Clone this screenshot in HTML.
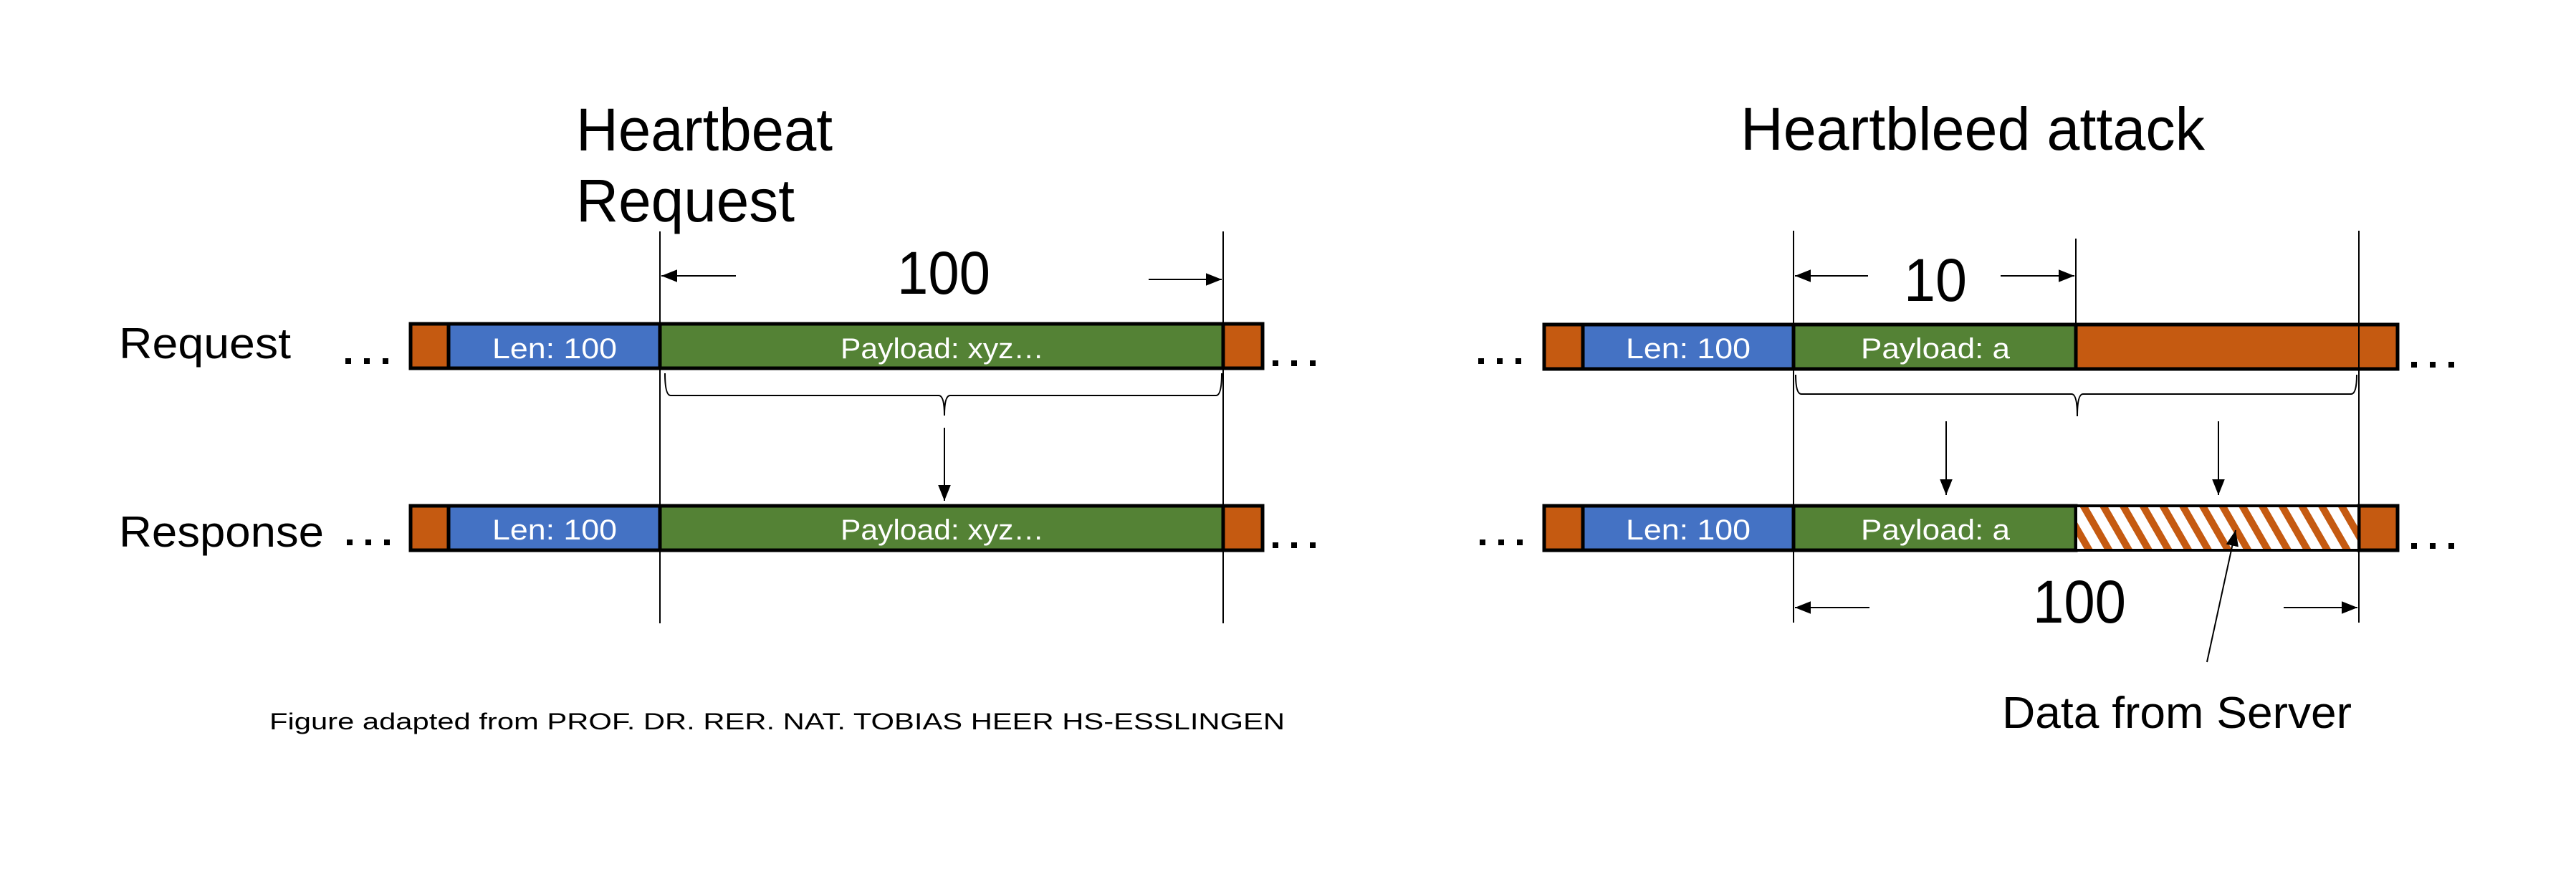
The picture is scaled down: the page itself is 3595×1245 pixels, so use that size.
<!DOCTYPE html>
<html><head><meta charset="utf-8"><style>html,body{margin:0;padding:0;background:#fff}svg{display:block}</style></head>
<body>
<svg width="3595" height="1245" viewBox="0 0 3595 1245" xmlns="http://www.w3.org/2000/svg" font-family="Liberation Sans, Arial, sans-serif">
<defs>
<marker id="ah" viewBox="0 0 10 10" refX="10" refY="5" markerWidth="22" markerHeight="22" markerUnits="userSpaceOnUse" orient="auto"><path d="M0,1 L10,5 L0,9 z" fill="#000"/></marker>
<pattern id="hatch" width="24" height="24" patternUnits="userSpaceOnUse" patternTransform="rotate(-30)"><rect width="24" height="24" fill="#fff"/><rect width="10" height="24" fill="#c55a11"/></pattern>
</defs>

<g transform="translate(-10,0)">
<text x="814" y="210" font-size="84" textLength="358" lengthAdjust="spacingAndGlyphs">Heartbeat</text>
<text x="814" y="309" font-size="84" textLength="305" lengthAdjust="spacingAndGlyphs">Request</text>
<text x="1262" y="410" font-size="84" textLength="130" lengthAdjust="spacingAndGlyphs">100</text>

<g stroke="#000" stroke-width="2"><line x1="931" y1="323" x2="931" y2="870"/><line x1="1717" y1="323" x2="1717" y2="870"/></g>
<line x1="1037" y1="385" x2="933" y2="385" stroke="#000" stroke-width="2" marker-end="url(#ah)"/>
<line x1="1613" y1="390" x2="1715" y2="390" stroke="#000" stroke-width="2" marker-end="url(#ah)"/>

<g stroke="#000" stroke-width="5">
<rect x="583" y="452" width="53" height="62" fill="#c55a11"/>
<rect x="636" y="452" width="295" height="62" fill="#4472c4"/>
<rect x="931" y="452" width="786" height="62" fill="#548235"/>
<rect x="1717" y="452" width="55" height="62" fill="#c55a11"/>
<rect x="583" y="706" width="53" height="62" fill="#c55a11"/>
<rect x="636" y="706" width="295" height="62" fill="#4472c4"/>
<rect x="931" y="706" width="786" height="62" fill="#548235"/>
<rect x="1717" y="706" width="55" height="62" fill="#c55a11"/>
</g>
<g fill="#fff" font-size="40">
<text x="697" y="500" textLength="174" lengthAdjust="spacingAndGlyphs">Len: 100</text>
<text x="1183" y="500" textLength="284" lengthAdjust="spacingAndGlyphs">Payload: xyz…</text>
<text x="697" y="753" textLength="174" lengthAdjust="spacingAndGlyphs">Len: 100</text>
<text x="1183" y="753" textLength="284" lengthAdjust="spacingAndGlyphs">Payload: xyz…</text>
</g>
<path d="M938,521 Q938,552 946,552 L1320,552 Q1328,552 1328,580 Q1328,552 1336,552 L1707,552 Q1715,552 1715,521" fill="none" stroke="#000" stroke-width="2"/>
<line x1="1328" y1="597" x2="1328" y2="699" stroke="#000" stroke-width="2" marker-end="url(#ah)"/>
<g fill="#000">
<rect x="492" y="500" width="8" height="8"/><rect x="518" y="500" width="8" height="8"/><rect x="544" y="500" width="8" height="8"/>
<rect x="494" y="753" width="8" height="8"/><rect x="520" y="753" width="8" height="8"/><rect x="546" y="753" width="8" height="8"/>
<rect x="1786" y="503" width="8" height="8"/><rect x="1812" y="503" width="8" height="8"/><rect x="1838" y="503" width="8" height="8"/>
<rect x="1786" y="757" width="8" height="8"/><rect x="1812" y="757" width="8" height="8"/><rect x="1838" y="757" width="8" height="8"/>
</g>
</g>
<text x="166" y="500" font-size="60" textLength="240" lengthAdjust="spacingAndGlyphs">Request</text>
<text x="166" y="763" font-size="60" textLength="286" lengthAdjust="spacingAndGlyphs">Response</text>
<text x="376" y="1018" font-size="32" textLength="1417" lengthAdjust="spacingAndGlyphs">Figure adapted from PROF. DR. RER. NAT. TOBIAS HEER HS-ESSLINGEN</text>

<text x="2429" y="209" font-size="84" textLength="648" lengthAdjust="spacingAndGlyphs">Heartbleed attack</text>
<text x="2657" y="420" font-size="84" textLength="88" lengthAdjust="spacingAndGlyphs">10</text>
<text x="2837" y="869" font-size="84" textLength="130" lengthAdjust="spacingAndGlyphs">100</text>
<text x="2794" y="1016" font-size="62" textLength="488" lengthAdjust="spacingAndGlyphs">Data from Server</text>

<g stroke="#000" stroke-width="2"><line x1="2503" y1="322" x2="2503" y2="869"/><line x1="3292" y1="322" x2="3292" y2="869"/><line x1="2897" y1="333" x2="2897" y2="455"/></g>
<line x1="2607" y1="385" x2="2505" y2="385" stroke="#000" stroke-width="2" marker-end="url(#ah)"/>
<line x1="2792" y1="385" x2="2895" y2="385" stroke="#000" stroke-width="2" marker-end="url(#ah)"/>
<line x1="2609" y1="848" x2="2505" y2="848" stroke="#000" stroke-width="2" marker-end="url(#ah)"/>
<line x1="3187" y1="848" x2="3290" y2="848" stroke="#000" stroke-width="2" marker-end="url(#ah)"/>

<g stroke="#000" stroke-width="5">
<rect x="2155" y="453" width="54" height="62" fill="#c55a11"/>
<rect x="2209" y="453" width="294" height="62" fill="#4472c4"/>
<rect x="2503" y="453" width="394" height="62" fill="#548235"/>
<rect x="2897" y="453" width="449" height="62" fill="#c55a11"/>
<rect x="2155" y="706" width="54" height="62" fill="#c55a11"/>
<rect x="2209" y="706" width="294" height="62" fill="#4472c4"/>
<rect x="2503" y="706" width="394" height="62" fill="#548235"/>
<rect x="3292" y="706" width="54" height="62" fill="#c55a11"/>
</g>
<rect x="2897" y="706" width="395" height="62" fill="url(#hatch)" stroke="#000" stroke-width="4"/>
<line x1="3292" y1="453" x2="3292" y2="515" stroke="#000" stroke-width="2"/>
<g fill="#fff" font-size="40">
<text x="2269" y="500" textLength="174" lengthAdjust="spacingAndGlyphs">Len: 100</text>
<text x="2597" y="500" textLength="208" lengthAdjust="spacingAndGlyphs">Payload: a</text>
<text x="2269" y="753" textLength="174" lengthAdjust="spacingAndGlyphs">Len: 100</text>
<text x="2597" y="753" textLength="208" lengthAdjust="spacingAndGlyphs">Payload: a</text>
</g>
<path d="M2506,523 Q2506,550 2514,550 L2891,550 Q2899,550 2899,581 Q2899,550 2907,550 L3281,550 Q3289,550 3289,523" fill="none" stroke="#000" stroke-width="2"/>
<line x1="2716" y1="588" x2="2716" y2="691" stroke="#000" stroke-width="2" marker-end="url(#ah)"/>
<line x1="3096" y1="588" x2="3096" y2="691" stroke="#000" stroke-width="2" marker-end="url(#ah)"/>
<line x1="3080" y1="924" x2="3120" y2="740" stroke="#000" stroke-width="2" marker-end="url(#ah)"/>
<g fill="#000">
<rect x="2063" y="500" width="8" height="8"/><rect x="2089" y="500" width="8" height="8"/><rect x="2115" y="500" width="8" height="8"/>
<rect x="2065" y="753" width="8" height="8"/><rect x="2091" y="753" width="8" height="8"/><rect x="2117" y="753" width="8" height="8"/>
<rect x="3365" y="505" width="8" height="8"/><rect x="3391" y="505" width="8" height="8"/><rect x="3417" y="505" width="8" height="8"/>
<rect x="3365" y="758" width="8" height="8"/><rect x="3391" y="758" width="8" height="8"/><rect x="3417" y="758" width="8" height="8"/>
</g>
</svg>
</body></html>
